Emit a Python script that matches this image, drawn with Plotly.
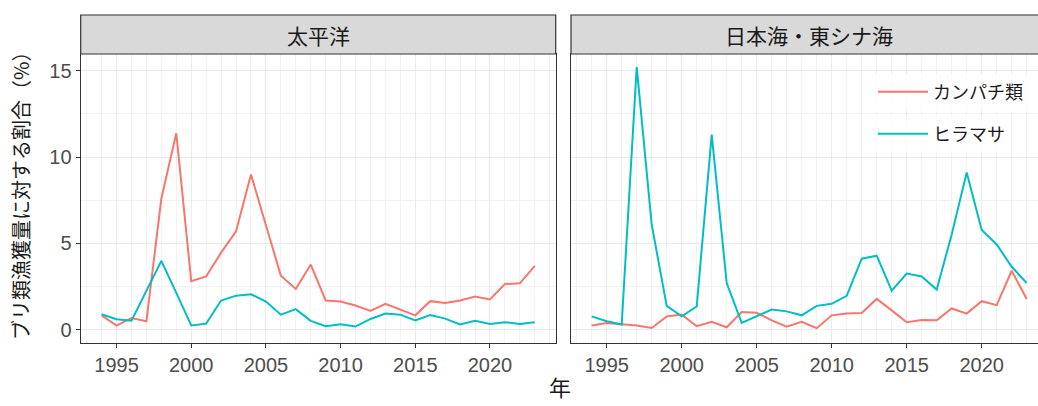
import plotly.graph_objects as go

years = list(range(1994, 2024))

# 太平洋
pac_kanpachi = [0.84, 0.25, 0.69, 0.50, 7.60, 11.37, 2.82, 3.09, 4.47, 5.70,
                8.99, 6.00, 3.13, 2.37, 3.78, 1.70, 1.64, 1.41, 1.09, 1.51,
                1.16, 0.84, 1.66, 1.55, 1.70, 1.93, 1.76, 2.65, 2.69, 3.70]
pac_hiramasa = [0.90, 0.61, 0.53, 2.27, 3.99, 2.14, 0.25, 0.36, 1.70, 1.98,
                2.06, 1.64, 0.88, 1.20, 0.52, 0.21, 0.32, 0.19, 0.63, 0.95,
                0.88, 0.55, 0.86, 0.65, 0.31, 0.52, 0.34, 0.44, 0.34, 0.44]
# 日本海・東シナ海
jpn_kanpachi = [0.25, 0.40, 0.32, 0.25, 0.11, 0.78, 0.88, 0.21, 0.46, 0.15,
                1.03, 0.99, 0.55, 0.19, 0.46, 0.10, 0.84, 0.94, 0.97, 1.79,
                1.13, 0.44, 0.57, 0.55, 1.24, 0.94, 1.66, 1.43, 3.42, 1.79]
jpn_hiramasa = [0.78, 0.50, 0.31, 15.21, 6.09, 1.39, 0.78, 1.35, 11.30, 2.71,
                0.40, 0.78, 1.18, 1.07, 0.84, 1.39, 1.51, 1.97, 4.12, 4.29,
                2.27, 3.26, 3.09, 2.33, 5.52, 9.10, 5.78, 4.94, 3.65, 2.71]

panels = ["太平洋", "日本海・東シナ海"]
series_names = ["カンパチ類", "ヒラマサ"]
colors = ["#F8766D", "#00BFC4"]
x_ticks = [1995, 2000, 2005, 2010, 2015, 2020]
y_ticks = [0, 5, 10, 15]

W, H = 1038, 406
JP = "Noto Sans CJK JP"
NUM = "Liberation Sans, Arial, sans-serif"

def px(x):
    return x / W

def py(y):
    return (H - y) / H

top, bottom = 54, 343
left_dom = [px(80.7), px(555.7)]
right_dom = [px(571), 1.0]

fig = go.Figure()
data = [(pac_kanpachi, pac_hiramasa), (jpn_kanpachi, jpn_hiramasa)]
for pi, (k, h) in enumerate(data):
    xa = "x" if pi == 0 else "x2"
    ya = "y" if pi == 0 else "y2"
    for si, vals in enumerate([k, h]):
        fig.add_trace(go.Scatter(
            x=years, y=vals, mode="lines", name=series_names[si],
            line=dict(color=colors[si], width=2),
            xaxis=xa, yaxis=ya,
            showlegend=(pi == 1),
            legend="legend" if si == 0 else "legend2",
        ))

def axis_common(ticklen=4, mirror=True):
    return dict(
        showgrid=True, gridcolor="#ebebeb", gridwidth=1.2,
        showline=True, linecolor="#333333", linewidth=1.2, mirror=mirror,
        ticks="outside", ticklen=ticklen, tickcolor="#333333", tickwidth=1.2,
        zeroline=False, automargin=False,
        tickfont=dict(family=NUM, size=20, color="#4d4d4d"),
    )

minor_x = dict(dtick=1, tick0=1994, showgrid=True, gridcolor="#f2f2f2", gridwidth=0.7, ticks="")
minor_y = dict(tickvals=[2.5, 7.5, 12.5], showgrid=True, gridcolor="#f2f2f2", gridwidth=0.7, ticks="")

yr = [-0.76, 15.96]
fig.update_layout(
    width=W, height=H,
    margin=dict(l=0, r=0, t=0, b=0, autoexpand=False),
    paper_bgcolor="white", plot_bgcolor="white",
    xaxis=dict(domain=left_dom, range=[1992.6, 2024.4], tickvals=x_ticks, anchor="y",
               minor=minor_x, **axis_common()),
    xaxis2=dict(domain=right_dom, range=[1992.62, 1992.62 + 467 / 15], tickvals=x_ticks, anchor="y2",
                minor=minor_x, **axis_common()),
    yaxis=dict(domain=[py(bottom), py(top)], range=yr, tickvals=y_ticks, anchor="x",
               minor=minor_y, **axis_common()),
    yaxis2=dict(domain=[py(bottom), py(top)], range=yr, tickvals=y_ticks, anchor="x2",
                showticklabels=False, minor=minor_y, **axis_common(0, False)),
    legend=dict(x=px(873), y=py(92), xanchor="left", yanchor="middle",
                bgcolor="rgba(255,255,255,0.75)", font=dict(family=JP, size=18, color="#1a1a1a"),
                itemwidth=50),
    legend2=dict(x=px(873), y=py(134), xanchor="left", yanchor="middle",
                 bgcolor="rgba(255,255,255,0.75)", font=dict(family=JP, size=18, color="#1a1a1a"),
                 itemwidth=50),
)

# strips
strip_ranges = [(80.7, 555.7), (571, 1046)]
for (x0, x1), label in zip(strip_ranges, panels):
    fig.add_shape(type="rect", xref="paper", yref="paper",
                  x0=px(x0), x1=px(x1), y0=py(top), y1=py(15),
                  fillcolor="#d9d9d9", line=dict(color="#333333", width=1.2), layer="above")
    fig.add_annotation(xref="paper", yref="paper", x=px((x0 + x1) / 2), y=py(34.5),
                       text=label, showarrow=False, xanchor="center", yanchor="middle",
                       font=dict(family=JP, size=21, color="#1a1a1a"))

# axis titles
fig.add_annotation(xref="paper", yref="paper", x=px(20), y=py(191), text="ブリ類漁獲量に対する割合（%）",
                   textangle=-90, showarrow=False, xanchor="center", yanchor="middle",
                   font=dict(family=JP, size=20, color="#1a1a1a"))
fig.add_annotation(xref="paper", yref="paper", x=px(560), y=py(386), text="年",
                   showarrow=False, xanchor="center", yanchor="middle",
                   font=dict(family=JP, size=22, color="#1a1a1a"))

fig.write_html("out.html", config={"displayModeBar": False},
               post_script="document.body.style.margin='0';document.body.style.overflow='hidden';")
